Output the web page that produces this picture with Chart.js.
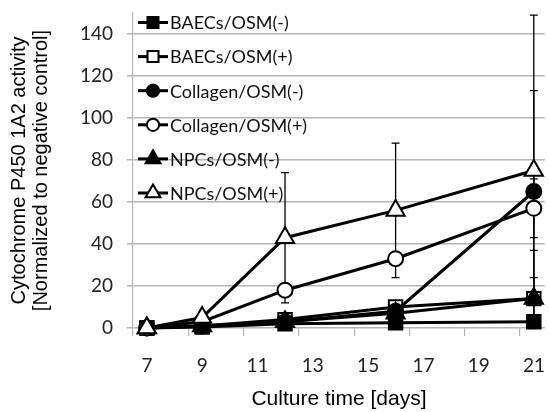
<!DOCTYPE html>
<html>
<head>
<meta charset="utf-8">
<script src="https://cdn.jsdelivr.net/npm/chart.js@4"></script>
<style>
  html, body { margin: 0; padding: 0; background: #fff; }
  #wrap { width: 549px; height: 412px; }
</style>
</head>
<body>
<div id="wrap"><canvas id="grafica" width="549" height="412"></canvas></div>
<script>
const days = [7, 9, 12, 16, 21];
const seriesNames = ['BAECs/OSM(-)', 'BAECs/OSM(+)', 'Collagen/OSM(-)', 'Collagen/OSM(+)', 'NPCs/OSM(-)', 'NPCs/OSM(+)'];

const baecsMinus    = [0, 0.5, 2, 2.5, 3];
const baecsPlus     = [0, 1, 4, 10, 14];
const collagenMinus = [0, 1, 3, 8, 65];
const collagenPlus  = [0, 3, 18, 33, 57];
const npcsMinus     = [0, 1, 3, 7, 14];
const npcsPlus      = [0, 5, 43, 56, 75];

// error bars (+/-)
const baecsMinusErr    = [0, 0, 0, 0, 0];
const baecsPlusErr     = [0, 0, 0, 0, 10];
const collagenMinusErr = [0, 0, 0, 0, 48];
const collagenPlusErr  = [0, 0, 0, 0, 14];
const npcsMinusErr     = [0, 0, 0, 0, 23];
const npcsPlusErr      = [0, 0, 31, 32, 74];

const yTicks = [0, 20, 40, 60, 80, 100, 120, 140];
const xTickMarks = [6.5, 8.5, 10.5, 12.5, 14.5, 16.5, 18.5, 20.5];
const xTickLabels = ['7', '9', '11', '13', '15', '17', '19', '21'];

const values = [baecsMinus, baecsPlus, collagenMinus, collagenPlus, npcsMinus, npcsPlus];
const errors = [baecsMinusErr, baecsPlusErr, collagenMinusErr, collagenPlusErr, npcsMinusErr, npcsPlusErr];
const styles = ['rect', 'rect', 'circle', 'circle', 'triangle', 'triangle'];
const filled = [true, false, true, false, true, false];
const radius = { rect: 9.5, circle: 7.5, triangle: 10.5 };

const GRID = '#b4b4b4';

const errorBars = {
    id: 'errorBars',
    beforeDatasetsDraw(chart) {
        const { ctx, scales: { x, y } } = chart;
        ctx.save();
        ctx.strokeStyle = '#000';
        ctx.lineWidth = 1.3;
        errors.forEach((err, s) => {
            err.forEach((e, i) => {
                if (!e) return;
                const px = x.getPixelForValue(days[i]);
                const top = y.getPixelForValue(values[s][i] + e);
                const bot = y.getPixelForValue(Math.max(values[s][i] - e, 0));
                ctx.beginPath();
                ctx.moveTo(px, top); ctx.lineTo(px, bot);
                ctx.moveTo(px - 4, top); ctx.lineTo(px + 4, top);
                ctx.moveTo(px - 4, bot); ctx.lineTo(px + 4, bot);
                ctx.stroke();
            });
        });
        ctx.restore();
    }
};

const insideLegend = {
    id: 'insideLegend',
    afterDraw(chart) {
        const { ctx, chartArea } = chart;
        ctx.save();
        ctx.font = '18px Lato';
        ctx.textBaseline = 'middle';
        seriesNames.forEach((name, i) => {
            const yy = chartArea.top + 9.5 + i * 34.1;
            ctx.strokeStyle = '#000';
            ctx.lineWidth = 3;
            ctx.beginPath();
            ctx.moveTo(138, yy); ctx.lineTo(168, yy);
            ctx.stroke();
            ctx.fillStyle = filled[i] ? '#000' : '#fff';
            ctx.lineWidth = 2;
            Chart.helpers.drawPoint(ctx, { pointStyle: styles[i], radius: radius[styles[i]] * 0.82, rotation: 0, borderWidth: 2 }, 153, yy);
            ctx.fillStyle = '#111';
            ctx.fillText(name, 170, yy + 1);
        });
        ctx.restore();
    }
};

new Chart(document.getElementById('grafica'), {
    type: 'line',
    data: {
        datasets: seriesNames.map((name, i) => ({
            label: name,
            data: days.map((d, j) => ({ x: d, y: values[i][j] })),
            borderColor: '#000',
            borderWidth: 3,
            pointStyle: styles[i],
            pointRadius: radius[styles[i]],
            pointBorderWidth: 2,
            pointBorderColor: '#000',
            pointBackgroundColor: filled[i] ? '#000' : '#fff',
            tension: 0,
            clip: false,
            order: 6 - i
        }))
    },
    options: {
        responsive: false,
        animation: false,
        layout: { autoPadding: false, padding: { top: 13, right: 0, left: 0, bottom: 0 } },
        plugins: { legend: { display: false }, tooltip: { enabled: false } },
        scales: {
            x: {
                type: 'linear',
                min: 6.5,
                max: 21.4,
                afterBuildTicks: s => { s.ticks = xTickMarks.map(v => ({ value: v })); },
                afterFit: s => { s.height = 84; },
                ticks: {
                    callback: (v, i) => xTickLabels[i],
                    labelOffset: 14,
                    padding: 18,
                    maxRotation: 0,
                    autoSkip: false,
                    color: '#222',
                    font: { family: 'Lato', size: 19 }
                },
                grid: { drawOnChartArea: false, color: GRID, tickLength: 8, lineWidth: 1.2 },
                border: { display: false },
                title: {
                    display: true,
                    text: 'Culture time [days]',
                    color: '#000',
                    font: { family: 'Liberation Sans', size: 21 },
                    padding: { top: 0, bottom: 0 }
                }
            },
            y: {
                min: 0,
                max: 150,
                afterBuildTicks: s => { s.ticks = yTicks.map(v => ({ value: v })); },
                afterFit: s => { s.width = 133; s.paddingTop = 0; s.paddingBottom = 0; },
                ticks: {
                    padding: 14,
                    color: '#222',
                    font: { family: 'Lato', size: 19 }
                },
                grid: { color: GRID, tickLength: 6, lineWidth: 1.5 },
                border: { color: GRID, width: 1.2 },
                title: {
                    display: true,
                    text: ['Cytochrome P450 1A2 activity', '[Normalized to negative control]'],
                    color: '#000',
                    font: { family: 'Liberation Sans', size: 20, lineHeight: 1.1 },
                    padding: { top: 8, bottom: 0 }
                }
            }
        }
    },
    plugins: [errorBars, insideLegend]
});
</script>
</body>
</html>
